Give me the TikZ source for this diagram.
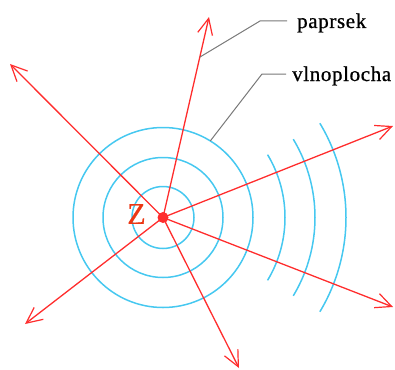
\documentclass[tikz,border=0pt]{standalone}
\usepackage{fontspec}
\setmainfont{Liberation Serif}
\newfontfamily\labfont[LetterSpace=3,FakeBold=0.8]{Liberation Serif}
\newfontfamily\zfont[FakeBold=0.6]{Liberation Serif}
\usetikzlibrary{arrows.meta,calc}
\definecolor{rayred}{RGB}{255,45,45}
\definecolor{wavblue}{RGB}{70,200,240}
\definecolor{zred}{RGB}{235,55,20}
\definecolor{leadgray}{RGB}{120,120,120}
\tikzset{
  ray/.style={draw=rayred, line width=1.3pt, -{Straight Barb[length=16pt,width=15pt,line width=1.2pt]}},
  wave/.style={draw=wavblue, line width=1.5pt},
  lead/.style={draw=leadgray, line width=1pt},
  lab/.style={font=\labfont\fontsize{21}{24}\selectfont, anchor=base west, inner sep=0pt},
}
\begin{document}
\begin{tikzpicture}[x=1pt,y=-1pt]
\useasboundingbox (0,0) rectangle (395,369);
\coordinate (Z) at (163,217.5);
% wavefronts
\draw[wave] (Z) circle[radius=31];
\draw[wave] (Z) circle[radius=60];
\draw[wave] (Z) circle[radius=90];
\foreach \r in {122,152,183}{
  \draw[wave] ($(Z)+(-31:\r)$) arc[start angle=-31, end angle=31, radius=\r];
}
% ray tips
\coordinate (tUL) at (10,64);
\coordinate (tU) at (209,17);
\coordinate (tRU) at (393,126);
\coordinate (tRD) at (393,307);
\coordinate (tLL) at (25,324);
\coordinate (tD) at (239,368);
\foreach \t in {tUL,tU,tRU,tRD,tLL,tD}{
  \draw[ray] (Z) -- (\t);
}
\fill[rayred] (Z) circle[radius=5.5];
\node[font=\zfont\fontsize{30}{32}\selectfont, text=zred, inner sep=0pt] (zl) at (136.5,214) {Z};
% labels
\node[lab] (pap) at (297,28) {paprsek};
\node[lab] (vln) at (292,81) {vlnoplocha};
\coordinate (pa) at ($(Z)!0.80!(tU)$);
\coordinate (va) at ($(Z)+(-58.3:90)$);
\coordinate (pk) at (260,21);
\coordinate (vk) at (262,74);
\draw[lead] (pa) -- (pk) -- ([xshift=-10pt]pk -| pap.west);
\draw[lead] (va) -- (vk) -- ([xshift=-6pt]vk -| vln.west);
\end{tikzpicture}
\end{document}
